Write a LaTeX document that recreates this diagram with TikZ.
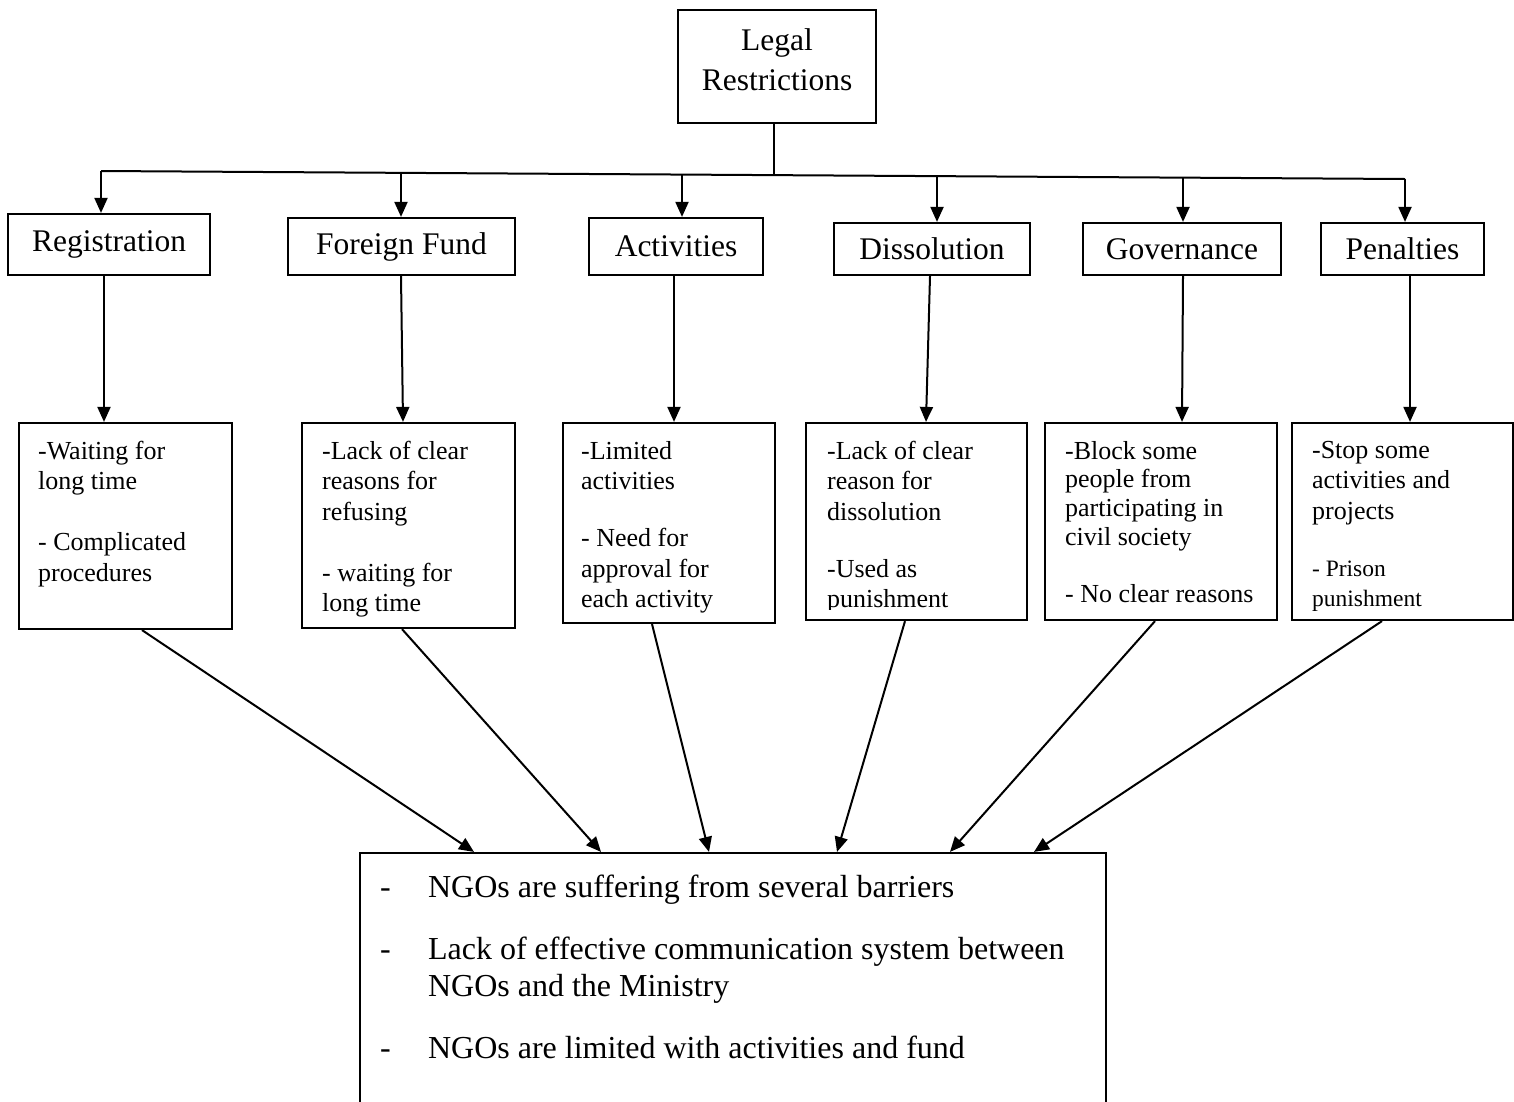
\documentclass[tikz,border=0pt]{standalone}
\usepackage{fontspec}
\setmainfont{Liberation Serif}
\usetikzlibrary{arrows.meta}

\begin{document}
\begin{tikzpicture}[x=1pt, y=-1pt,
    box/.style={rectangle, draw=black, line width=2.2pt, inner sep=0pt},
    headbox/.style={box, font=\fontsize{31.5}{40}\selectfont},
    notebox/.style={box},
    note/.style={anchor=north west, inner sep=0pt, align=left,
        font=\fontsize{26}{30.5}\selectfont},
    line/.style={line width=2pt},
    link/.style={line width=2pt, -{Triangle[length=15pt, width=13pt]}}
]
    \useasboundingbox (0,0) rectangle (1514,1101);

    % top box
    \node[headbox, minimum width=198, minimum height=113, align=center,
        text depth=14pt] (head) at (777,66.5) {Legal\\Restrictions};

    % categories
    \node[headbox, minimum width=202, minimum height=61] (reg)  at (109,244.5)  {Registration};
    \node[headbox, minimum width=227, minimum height=57] (ff)   at (401.5,246.5) {Foreign Fund};
    \node[headbox, minimum width=174, minimum height=57] (act)  at (676,246.5)  {Activities};
    \node[headbox, minimum width=196, minimum height=52] (diss) at (932,249)    {Dissolution};
    \node[headbox, minimum width=198, minimum height=52] (gov)  at (1182,249)   {Governance};
    \node[headbox, minimum width=163, minimum height=52] (pen)  at (1402.5,249) {Penalties};

    % problem boxes
    \node[notebox, minimum width=213, minimum height=206] (regd)  at (125.5,526)   {};
    \node[notebox, minimum width=213, minimum height=205] (ffd)   at (408.5,525.5) {};
    \node[notebox, minimum width=212, minimum height=200] (actd)  at (669,523)     {};
    \node[notebox, minimum width=221, minimum height=197] (dissd) at (916.5,521.5) {};
    \node[notebox, minimum width=232, minimum height=197] (govd)  at (1161,521.5)  {};
    \node[notebox, minimum width=221, minimum height=197] (pend)  at (1402.5,521.5) {};

    \node[note] (regt) at ([xshift=20, yshift=-19]regd.north west)
        {-Waiting for\\long time\\[30.5pt]- Complicated\\procedures};
    \node[note] (fft) at ([xshift=21, yshift=-19]ffd.north west)
        {-Lack of clear\\reasons for\\refusing\\[30.5pt]- waiting for\\long time};
    \node[note] (actt) at ([xshift=19, yshift=-19]actd.north west)
        {-Limited\\activities\\[26.5pt]- Need for\\approval for\\each activity};
    \begin{scope}
        \clip (dissd.north west) rectangle ([yshift=12]dissd.south east);
        \node[note] (disst) at ([xshift=22, yshift=-19]dissd.north west)
            {-Lack of clear\\reason for\\dissolution\\[26.5pt]-Used as\\punishment};
    \end{scope}
    \node[note, font=\fontsize{26}{28.7}\selectfont] (govt)
        at ([xshift=21, yshift=-19]govd.north west)
        {-Block some\\people from\\participating in\\civil society\\[28.7pt]- No clear reasons};
    \begin{scope}
        \clip (pend.north west) rectangle ([yshift=6]pend.south east);
        \node[note] (pent) at ([xshift=21, yshift=-19]pend.north west)
            {-Stop some\\activities and\\projects\\[26.5pt]%
            {\fontsize{23.5}{30.5}\selectfont - Prison}\\
            {\fontsize{23.5}{30.5}\selectfont punishment}};
    \end{scope}

    % summary box
    \node[box, minimum width=746, minimum height=280] (sum) at (733,993) {};
    \node[note, font=\fontsize{32}{37}\selectfont] (sumt)
        at ([xshift=21, yshift=-23]sum.north west)
        {\makebox[48pt][l]{-}NGOs are suffering from several barriers\\[25pt]
         \makebox[48pt][l]{-}Lack of effective communication system between\\
         \hspace*{48pt}NGOs and the Ministry\\[25pt]
         \makebox[48pt][l]{-}NGOs are limited with activities and fund};

    % distribution line
    \coordinate (j)  at (774,174);
    \coordinate (b1) at (101,171);
    \coordinate (b2) at (401,172.8);
    \coordinate (b3) at (682,174.6);
    \coordinate (b4) at (937,176.1);
    \coordinate (b5) at (1183,177.6);
    \coordinate (b6) at (1405,179);
    \draw[line] (j |- head.south) -- (j);
    \draw[line] (b1) -- (b6);
    \draw[link] (b1) -- (b1 |- reg.north);
    \draw[link] (b2) -- (b2 |- ff.north);
    \draw[link] (b3) -- (b3 |- act.north);
    \draw[link] (b4) -- (b4 |- diss.north);
    \draw[link] (b5) -- (b5 |- gov.north);
    \draw[link] (b6) -- (b6 |- pen.north);

    % category to problems
    \draw[link] ([xshift=-5]reg.south)   -- ([xshift=-21.5]regd.north);
    \draw[link] ([xshift=-0.5]ff.south)  -- ([xshift=-5.5]ffd.north);
    \draw[link] ([xshift=-2]act.south)   -- ([xshift=5]actd.north);
    \draw[link] ([xshift=-2]diss.south)  -- ([xshift=9.5]dissd.north);
    \draw[link] ([xshift=1]gov.south)    -- ([xshift=21]govd.north);
    \draw[link] ([xshift=7.5]pen.south)  -- ([xshift=7.5]pend.north);

    % problems to summary
    \draw[link] ([xshift=16.5]regd.south)  -- ([xshift=-259]sum.north);
    \draw[link] ([xshift=-6.5]ffd.south)   -- ([xshift=-132]sum.north);
    \draw[link] ([xshift=-17]actd.south)   -- ([xshift=-24]sum.north);
    \draw[link] ([xshift=-11.5]dissd.south) -- ([xshift=104]sum.north);
    \draw[link] ([xshift=-6]govd.south)    -- ([xshift=217]sum.north);
    \draw[link] ([xshift=-20.5]pend.south) -- ([xshift=301]sum.north);
\end{tikzpicture}
\end{document}
